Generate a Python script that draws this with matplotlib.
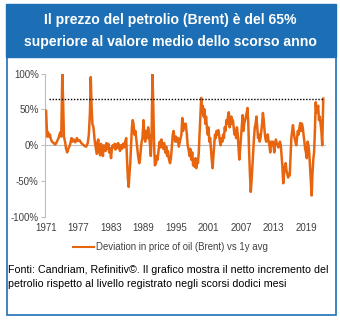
import matplotlib.pyplot as plt
from matplotlib.patches import Rectangle
from matplotlib.lines import Line2D

plt.rcParams['font.family'] = ['Liberation Sans', 'DejaVu Sans']

# deviation of Brent from its 1y average, in %  (year, value)
points = [
    (1971.0, 48), (1971.1, 30), (1971.2, 12), (1971.35, 18), (1971.5, 12),
    (1971.7, 15), (1971.9, 8), (1972.1, 5), (1972.4, 3), (1972.7, 1),
    (1973.0, 5), (1973.3, 10), (1973.6, 18), (1973.8, 12), (1974.0, 100),
    (1974.15, 60), (1974.3, 12), (1974.5, 5), (1974.7, -5), (1974.9, -10),
    (1975.1, -5), (1975.4, 0), (1975.7, 10), (1975.9, 5), (1976.1, 8),
    (1976.4, 4), (1976.7, 10), (1976.9, 6), (1977.2, 7), (1977.5, 3),
    (1977.8, 1), (1978.1, -1), (1978.4, -2), (1978.7, 3), (1978.9, 15),
    (1979.1, 45), (1979.25, 95), (1979.4, 55), (1979.55, 30), (1979.75, 25),
    (1980.0, 5), (1980.2, -5), (1980.35, -12), (1980.5, 5), (1980.65, 8),
    (1980.8, -10), (1981.0, -14), (1981.15, 2), (1981.3, -5), (1981.5, -15),
    (1981.65, 0), (1981.8, -3), (1982.0, -8), (1982.15, 3), (1982.3, -5),
    (1982.5, 2), (1982.65, -10), (1982.8, -4), (1983.0, -18), (1983.15, -5),
    (1983.3, 0), (1983.5, -3), (1983.65, 2), (1983.8, -6), (1984.0, 1),
    (1984.15, -4), (1984.3, 3), (1984.5, -2), (1984.65, -8), (1984.8, 0),
    (1985.0, -5), (1985.2, 2), (1985.4, -3), (1985.6, 5), (1985.8, 10),
    (1985.95, -20), (1986.1, -45), (1986.25, -58), (1986.4, -40), (1986.55, -25),
    (1986.7, 0), (1986.85, 25), (1987.0, 35), (1987.15, 30), (1987.3, 15),
    (1987.5, 20), (1987.7, 5), (1987.85, -5), (1988.0, -15), (1988.2, -25),
    (1988.35, -20), (1988.5, -5), (1988.65, 5), (1988.8, 10), (1989.0, 35),
    (1989.15, 15), (1989.3, 5), (1989.5, 20), (1989.7, 10), (1989.85, 25),
    (1990.0, 15), (1990.2, 0), (1990.35, -15), (1990.5, 20), (1990.65, 100),
    (1990.8, 55), (1990.95, 0), (1991.1, -28), (1991.3, -25), (1991.45, -15),
    (1991.6, -20), (1991.8, -5), (1992.0, 5), (1992.15, -3), (1992.3, 8),
    (1992.5, 0), (1992.65, -5), (1992.8, 3), (1993.0, -10), (1993.2, -2),
    (1993.35, -15), (1993.5, -8), (1993.7, -20), (1993.9, -25), (1994.05, -18),
    (1994.2, -5), (1994.4, 15), (1994.55, 20), (1994.7, 10), (1994.85, 5),
    (1995.0, 12), (1995.2, 5), (1995.35, 10), (1995.5, -2), (1995.7, 5),
    (1995.85, 10), (1996.0, 15), (1996.15, 38), (1996.3, 20), (1996.5, 30),
    (1996.65, 25), (1996.8, 30), (1997.0, 15), (1997.15, 0), (1997.3, -5),
    (1997.5, -15), (1997.65, -5), (1997.8, -20), (1998.0, -10), (1998.15, -28),
    (1998.3, -20), (1998.45, -30), (1998.6, -18), (1998.75, -32), (1998.9, -20),
    (1999.05, -25), (1999.2, -10), (1999.35, 15), (1999.5, 40), (1999.65, 66),
    (1999.8, 45), (1999.95, 55), (2000.1, 40), (2000.25, 50), (2000.4, 30),
    (2000.55, 40), (2000.7, 25), (2000.85, 15), (2001.0, 25), (2001.15, 5),
    (2001.3, 10), (2001.45, -5), (2001.6, -20), (2001.75, -32), (2001.9, -15),
    (2002.05, 0), (2002.2, 15), (2002.35, 10), (2002.5, 20), (2002.65, 15),
    (2002.8, 21), (2002.95, 15), (2003.1, 5), (2003.25, 0), (2003.4, 10),
    (2003.55, 5), (2003.7, 15), (2003.85, 10), (2004.0, 25), (2004.15, 20),
    (2004.3, 35), (2004.45, 30), (2004.6, 40), (2004.75, 46), (2004.9, 25),
    (2005.05, 30), (2005.2, 40), (2005.35, 30), (2005.5, 35), (2005.65, 25),
    (2005.8, 15), (2005.95, 20), (2006.1, 10), (2006.25, 25), (2006.4, 15),
    (2006.55, -5), (2006.7, -20), (2006.85, -5), (2007.0, 10), (2007.15, 25),
    (2007.3, 42), (2007.45, 20), (2007.6, 30), (2007.75, 35), (2007.9, 40),
    (2008.05, 45), (2008.2, 52), (2008.35, 30), (2008.5, -10), (2008.65, -40),
    (2008.8, -65), (2008.95, -50), (2009.1, -30), (2009.25, -10), (2009.4, 10),
    (2009.55, 25), (2009.7, 30), (2009.85, 40), (2010.0, 25), (2010.15, 10),
    (2010.3, 15), (2010.45, 5), (2010.6, 10), (2010.75, 20), (2010.9, 30),
    (2011.05, 45), (2011.2, 35), (2011.35, 20), (2011.5, 10), (2011.65, 5),
    (2011.8, 12), (2011.95, 15), (2012.1, 5), (2012.25, 0), (2012.4, -10),
    (2012.55, 5), (2012.7, 0), (2012.85, 5), (2013.0, 0), (2013.15, -10),
    (2013.3, 3), (2013.45, 8), (2013.6, 2), (2013.75, 0), (2013.9, -3),
    (2014.05, 2), (2014.2, 5), (2014.35, 0), (2014.5, -15), (2014.65, -30),
    (2014.8, -53), (2014.95, -40), (2015.1, -30), (2015.25, -25), (2015.4, -35),
    (2015.55, -40), (2015.7, -45), (2015.85, -40), (2016.0, -42), (2016.15, -15),
    (2016.3, 10), (2016.45, 20), (2016.6, 28), (2016.75, 18), (2016.9, 10),
    (2017.05, 5), (2017.2, 0), (2017.35, 10), (2017.5, 20), (2017.65, 15),
    (2017.8, 25), (2017.95, 31), (2018.1, 20), (2018.25, 30), (2018.4, 25),
    (2018.55, 15), (2018.7, 5), (2018.85, -5), (2019.0, -10), (2019.15, -18),
    (2019.3, 5), (2019.45, 0), (2019.6, -10), (2019.75, -30), (2019.9, -50),
    (2020.05, -70), (2020.2, -40), (2020.35, -20), (2020.5, -10), (2020.65, 20),
    (2020.8, 60), (2020.95, 45), (2021.1, 50), (2021.25, 55), (2021.4, 35),
    (2021.55, 40), (2021.7, 30), (2021.85, 20), (2022.0, 0), (2022.2, 65),
]
years = [p[0] for p in points]
deviation = [p[1] for p in points]
current_level = 65
tick_years = [1971, 1977, 1983, 1989, 1995, 2001, 2007, 2013, 2019]
y_ticks = [-100, -50, 0, 50, 100]

orange = '#E8650F'
blue = '#1D6FB5'

fig = plt.figure(figsize=(3.4, 3.21), dpi=100)

# header band and frame
fig.patches.append(Rectangle((6 / 340, 1 - 57 / 321), 330 / 340, 53 / 321,
                             transform=fig.transFigure, color=blue, zorder=0))
fig.patches.append(Rectangle((6.5 / 340, 1 - 315 / 321), 329 / 340, 258 / 321,
                             transform=fig.transFigure, fill=False, ec=blue,
                             lw=1.2, zorder=0))
fig.text(0.5, 1 - 20 / 321, 'Il prezzo del petrolio (Brent) è del 65%',
         ha='center', va='center', color='white', fontsize=10.1, fontweight='bold')
fig.text(0.5, 1 - 42 / 321, 'superiore al valore medio dello scorso anno',
         ha='center', va='center', color='white', fontsize=10.1, fontweight='bold')

ax = fig.add_axes([45 / 340, 1 - 217 / 321, 281 / 340, 143.5 / 321])
ax.plot(years, deviation, color=orange, lw=1.8, zorder=3)
ax.hlines(current_level, 1971.6, years[-1], colors='black', linestyles=(0, (1, 1.2)),
          lw=1.0, zorder=4)
ax.axhline(0, color='#BFBFBF', lw=0.8, zorder=1)

ax.set_xlim(1970.8, 2022.7)
ax.set_ylim(-100, 100)
ax.set_yticks(y_ticks)
ax.set_yticklabels([f'{v}%' for v in y_ticks])
ax.set_xticks(tick_years)
ax.set_xticklabels([str(y) for y in tick_years])
for s in ['top', 'right', 'bottom']:
    ax.spines[s].set_visible(False)
ax.spines['left'].set_color('#BFBFBF')
ax.spines['left'].set_linewidth(0.8)
ax.tick_params(axis='y', length=3, width=0.8, color='#BFBFBF', labelsize=7,
               labelcolor='#404040', pad=1.5)
ax.tick_params(axis='x', length=0, labelsize=7, labelcolor='#404040', pad=4)

fig.legend(handles=[Line2D([], [], color=orange, lw=1.5)],
           labels=['Deviation in price of oil (Brent) vs 1y avg'],
           loc='center', bbox_to_anchor=(0.5, 1 - 247 / 321), frameon=False,
           fontsize=6.9, handlelength=2.2, handletextpad=0.2, labelcolor='#404040')

fig.text(8 / 340, 1 - 270 / 321,
         'Fonti: Candriam, Refinitiv©. Il grafico mostra il netto incremento del',
         ha='left', va='center', fontsize=7.7, color='black')
fig.text(8 / 340, 1 - 284 / 321,
         'petrolio rispetto al livello registrato negli scorsi dodici mesi',
         ha='left', va='center', fontsize=7.7, color='black')

fig.savefig('out.png', dpi=100)
